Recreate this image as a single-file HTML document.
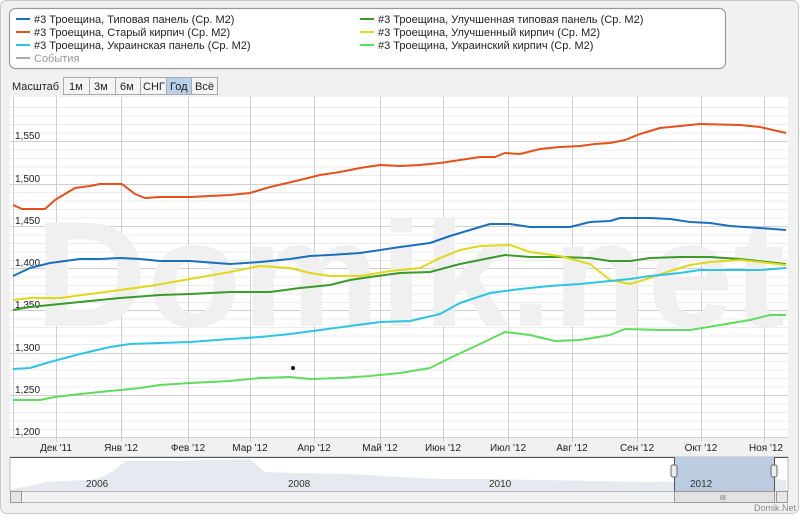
<!DOCTYPE html>
<html><head><meta charset="utf-8"><style>
body{margin:0;width:800px;height:515px;overflow:hidden;background:#fff;font-family:"Liberation Sans",sans-serif;}
</style></head><body>
<svg width="800" height="515" xmlns="http://www.w3.org/2000/svg" font-family="Liberation Sans, sans-serif">
<rect x="0.5" y="0.5" width="798" height="513" rx="6" fill="#f1f1f1" stroke="#c8c8c8"/>
<rect x="9.5" y="8.5" width="716" height="60" rx="6" fill="#fff" stroke="#999" stroke-width="1.2"/>
<g font-size="11" fill="#222">
<line x1="16" y1="19" x2="30" y2="19" stroke="#1a6fbf" stroke-width="2"/><text x="34" y="23">#3 Троещина, Типовая панель (Ср. М2)</text>
<line x1="16" y1="32" x2="30" y2="32" stroke="#e5501b" stroke-width="2"/><text x="34" y="36">#3 Троещина, Старый кирпич (Ср. М2)</text>
<line x1="16" y1="45" x2="30" y2="45" stroke="#2ec4e6" stroke-width="2"/><text x="34" y="49">#3 Троещина, Украинская панель (Ср. М2)</text>
<line x1="16" y1="58" x2="30" y2="58" stroke="#aaa" stroke-width="2"/><text x="34" y="62" fill="#999">События</text>
<line x1="360" y1="19" x2="374" y2="19" stroke="#3a9a2a" stroke-width="2"/><text x="378" y="23">#3 Троещина, Улучшенная типовая панель (Ср. М2)</text>
<line x1="360" y1="32" x2="374" y2="32" stroke="#e2d81a" stroke-width="2"/><text x="378" y="36">#3 Троещина, Улучшенный кирпич (Ср. М2)</text>
<line x1="360" y1="45" x2="374" y2="45" stroke="#5edc5e" stroke-width="2"/><text x="378" y="49">#3 Троещина, Украинский кирпич (Ср. М2)</text>
</g>
<text x="12" y="90" font-size="11" fill="#222">Масштаб</text>
<g font-size="11" fill="#222" stroke="#aaa">
<rect x="63.5" y="77.5" width="26" height="17" fill="#f4f4f4"/><rect x="89.5" y="77.5" width="26" height="17" fill="#f4f4f4"/><rect x="115.5" y="77.5" width="25" height="17" fill="#f4f4f4"/><rect x="140.5" y="77.5" width="26" height="17" fill="#f4f4f4"/><rect x="166.5" y="77.5" width="25" height="17" fill="#b8d0ea"/><rect x="191.5" y="77.5" width="26" height="17" fill="#f4f4f4"/>
</g>
<g font-size="11" fill="#222">
<text x="69" y="90">1м</text><text x="94" y="90">3м</text><text x="120" y="90">6м</text><text x="143" y="90">СНГ</text><text x="170" y="90">Год</text><text x="195" y="90">Всё</text>
</g>
<rect x="10" y="97" width="778" height="340" fill="#fff"/>
<g stroke="#ececec" stroke-width="1">
<path d="M10 107.5H788M10 116H788M10 124.5H788M10 133H788M10 150H788M10 158.5H788M10 167H788M10 175.5H788M10 192.5H788M10 201H788M10 209.5H788M10 218H788M10 235H788M10 243.5H788M10 252H788M10 260.5H788M10 277H788M10 285.5H788M10 294H788M10 302.5H788M10 319H788M10 327.5H788M10 336H788M10 344.5H788M10 361.5H788M10 370H788M10 378.5H788M10 387H788M10 404H788M10 412.5H788M10 421H788M10 429.5H788"/>
</g>
<g stroke="#cfcfcf" stroke-width="1">
<path d="M10 141.5H788M10 184.5H788M10 226.5H788M10 268.5H788M10 310.5H788M10 353.5H788M10 395.5H788M10 437.5H788"/>
<path d="M13.5 97V437M56.5 97V442M121.5 97V442M188.5 97V442M250.5 97V442M314.5 97V442M380.5 97V442M443.5 97V442M508.5 97V442M572.5 97V442M637.5 97V442M701.5 97V442M764.5 97V442"/>
</g>
<text x="35" y="326" font-size="150" font-weight="bold" fill="#f0f0f0" textLength="750" lengthAdjust="spacingAndGlyphs">Domik.net</text>
<g font-size="10" fill="#222">
<text x="15" y="139">1,550</text><text x="15" y="182">1,500</text><text x="15" y="224">1,450</text><text x="15" y="266">1,400</text><text x="15" y="308">1,350</text><text x="15" y="351">1,300</text><text x="15" y="393">1,250</text><text x="15" y="435">1,200</text>
</g>
<g font-size="10" fill="#222" text-anchor="middle">
<text x="56" y="451">Дек '11</text><text x="121" y="451">Янв '12</text><text x="188" y="451">Фев '12</text><text x="250" y="451">Мар '12</text><text x="314" y="451">Апр '12</text><text x="380" y="451">Май '12</text><text x="443" y="451">Июн '12</text><text x="508" y="451">Июл '12</text><text x="572" y="451">Авг '12</text><text x="637" y="451">Сен '12</text><text x="701" y="451">Окт '12</text><text x="766" y="451">Ноя '12</text>
</g>
<g fill="none" stroke-width="2" stroke-linejoin="round">
<polyline stroke="#e5501b" points="13,205 22,209 45,209 55,200 75,188 90,186 100,184 122,184 135,194 145,198 160,197 190,197 230,195 250,193 270,187 300,180 320,175 340,172 360,168 380,165 400,166 420,165 440,163 460,160 480,157 495,157 505,153 520,154 540,149 560,147 580,146 595,144 610,143 625,140 640,134 660,128 680,126 700,124 740,125 760,127 786,133"/>
<polyline stroke="#1a6fbf" points="13,276 30,268 50,263 80,259 100,259 120,258 140,259 160,261 190,261 230,264 260,262 290,259 310,256 330,255 360,253 400,247 430,243 450,236 470,230 490,224 510,224 530,227 570,227 590,222 610,221 620,218 650,218 670,219 690,222 710,223 730,226 760,228 786,230"/>
<polyline stroke="#3a9a2a" points="13,310 30,307 60,304 90,301 120,298 160,295 190,294 230,292 270,292 300,288 330,285 350,280 370,277 400,273 430,272 460,264 490,258 505,255 530,257 560,257 590,258 610,261 630,261 650,258 680,257 710,257 740,259 786,264"/>
<polyline stroke="#e2d81a" points="13,300 30,298 60,298 90,294 120,290 150,286 190,279 230,272 260,266 290,268 310,273 330,276 360,276 390,271 420,268 440,258 460,250 480,246 510,245 530,252 560,256 590,264 610,280 630,284 650,278 670,271 690,265 710,262 740,260 760,262 786,265"/>
<polyline stroke="#2ec4e6" points="13,369 30,368 50,362 80,354 110,347 130,344 160,343 190,342 230,339 260,337 290,334 320,330 350,326 380,322 410,321 440,314 460,303 490,293 520,289 550,286 580,284 610,281 630,279 650,276 680,273 700,270 730,270 760,270 786,268"/>
<polyline stroke="#5edc5e" points="13,400 40,400 55,397 80,394 110,391 140,388 160,385 190,383 230,381 260,378 290,377 310,379 340,378 370,376 400,373 430,368 450,358 480,344 505,332 530,335 555,341 580,340 610,335 625,329 660,330 690,330 720,325 750,320 770,315 786,315"/>
</g>
<circle cx="293" cy="368" r="2" fill="#000"/>
<rect x="10" y="457" width="778" height="34" fill="#fff" stroke="#bbb"/>
<path d="M12 489 L30 486 L45 482 L60 481 L90 480 L100 478 L115 470 L125 461 L180 461 L200 460 L230 460 L250 459 L265 472 L300 473 L350 474 L400 477 L440 479 L490 479 L540 480 L600 481 L650 482 L700 481 L775 479 L786 480 L786 491 L12 491Z" fill="#e6eaf0"/>
<rect x="674" y="457" width="100" height="34" fill="#b6c8de" opacity="0.9"/>
<path d="M10 457.5H674M774 457.5H788" stroke="#555"/>
<line x1="674.5" y1="457" x2="674.5" y2="491" stroke="#555"/><line x1="774.5" y1="457" x2="774.5" y2="491" stroke="#555"/>
<rect x="671" y="465" width="6" height="12" rx="2" fill="#eee" stroke="#666"/><rect x="771" y="465" width="6" height="12" rx="2" fill="#eee" stroke="#666"/>
<g font-size="10" fill="#333"><text x="86" y="487">2006</text><text x="288" y="487">2008</text><text x="489" y="487">2010</text><text x="690" y="487">2012</text></g>
<rect x="10.5" y="491.5" width="777" height="11" fill="#f2f2f2" stroke="#bbb"/>
<rect x="10.5" y="491.5" width="11" height="11" fill="#e6e6e6" stroke="#999"/>
<rect x="776.5" y="491.5" width="11" height="11" fill="#e6e6e6" stroke="#999"/>
<rect x="674.5" y="491.5" width="100" height="11" fill="#e2e2e2" stroke="#999"/>
<text x="720" y="500" font-size="7" fill="#666">III</text>
<text x="796" y="511" font-size="9" fill="#888" text-anchor="end">Domik.Net</text>
</svg>
</body></html>
